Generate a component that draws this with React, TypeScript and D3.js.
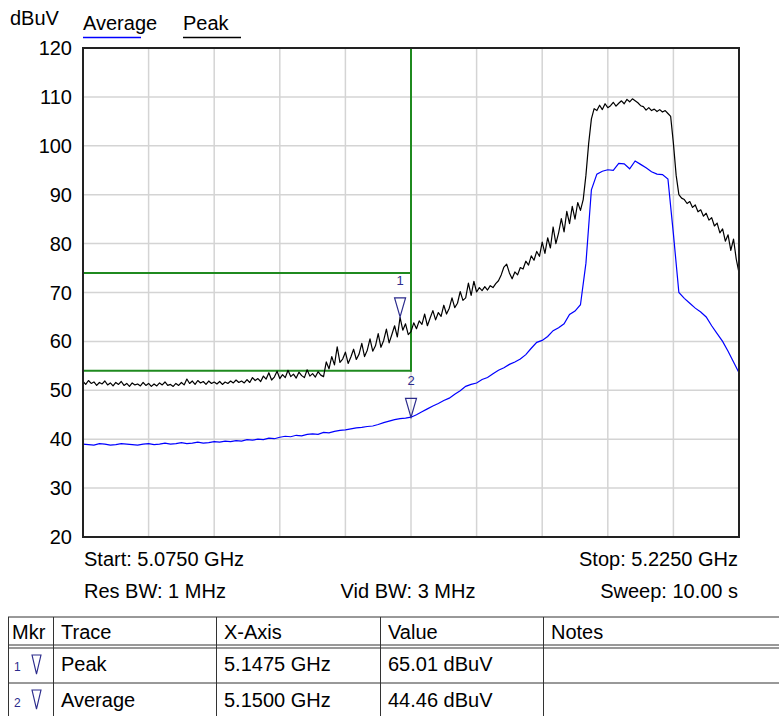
import React from "react";
import * as d3 from "d3";

const START_GHZ = 5.075;
const STOP_GHZ = 5.225;
const Y_TICKS = [120, 110, 100, 90, 80, 70, 60, 50, 40, 30, 20];
const X_DIVS = [0, 1, 2, 3, 4, 5, 6, 7, 8, 9, 10];

// Peak trace (dBuV), sweep points spaced 0.000625 GHz
const PEAK_STEP = 0.000625;
const PEAK = [
  51.8, 51.2, 52.0, 51.4, 51.7, 51.0, 51.6, 51.3, 51.9, 51.1,
  51.5, 50.9, 51.6, 51.2, 51.8, 51.0, 51.4, 50.8, 51.5, 51.1,
  51.3, 50.9, 51.6, 51.0, 51.4, 50.8, 51.3, 50.9, 51.5, 51.1,
  51.7, 51.0, 51.2, 50.8, 51.4, 51.0, 51.6, 51.1, 52.3, 51.4,
  51.9, 51.2, 52.0, 51.5, 51.8, 51.2, 51.9, 51.4, 51.7, 51.3,
  51.8, 51.2, 51.7, 51.4, 51.9, 51.5, 52.1, 51.6, 51.9, 51.5,
  52.2, 51.6, 52.6, 52.0, 52.4, 51.8, 52.9, 52.3, 53.6, 52.1,
  52.7, 53.9, 52.4, 53.2, 52.6, 54.1, 52.8, 53.3, 52.5, 53.7,
  53.0, 52.6, 54.2, 52.9, 53.4, 52.7, 53.8, 53.1, 52.8, 55.8,
  54.4, 56.9, 55.2, 58.9, 55.7, 56.4, 57.8, 55.5, 56.8, 58.4,
  56.3, 57.4, 59.6, 56.9, 58.2, 60.5, 58.0, 59.1, 61.6, 58.8,
  60.2, 62.5, 59.7, 61.4, 63.2, 60.9, 64.9, 62.3, 63.6, 61.4,
  62.0, 63.8, 62.6, 64.2, 63.5, 65.6, 63.2, 64.8, 66.3, 64.4,
  65.9, 65.1, 67.4, 65.6, 66.8, 68.9, 66.9, 67.8, 70.2, 68.4,
  68.9, 71.9, 69.4, 72.3, 70.1, 71.0, 70.4, 71.2, 70.5, 71.4,
  71.0, 71.8, 72.4, 73.6, 75.2, 75.8, 74.0, 72.8, 74.2, 73.6,
  75.1, 74.8, 76.4, 75.6, 77.5, 76.6, 78.4, 77.4, 80.3, 78.0,
  81.2, 79.1, 83.4, 80.0, 82.2, 85.1, 82.4, 86.6, 84.1, 87.6,
  85.0, 88.4, 86.8, 89.0, 94.0, 100.5, 105.5, 107.6, 107.2, 108.3,
  107.4, 108.6, 107.8, 108.2, 108.9, 108.1, 108.7, 109.2, 108.6, 109.5,
  109.0, 109.6, 109.2, 108.8, 108.2, 108.0, 107.3, 107.8, 107.2, 107.5,
  107.0, 107.4, 106.9, 107.2, 106.6, 106.0, 100.5, 94.0, 90.0, 89.3,
  89.0, 88.2, 88.6, 87.4, 87.9, 86.5, 86.9, 85.6, 86.2, 84.8,
  85.3, 83.6, 84.2, 82.2, 83.0, 80.5, 81.8, 78.6, 80.9, 76.8,
  74.0,
];

// Average trace (dBuV), sweep points spaced 0.00125 GHz
const AVG_STEP = 0.00125;
const AVERAGE = [
  39.0, 38.9, 38.8, 39.1, 39.0, 38.8, 38.9, 39.1, 39.0, 38.9,
  38.8, 39.0, 39.1, 38.9, 39.0, 39.2, 39.0, 39.1, 39.3, 39.1,
  39.2, 39.4, 39.2, 39.3, 39.5, 39.4, 39.6, 39.5, 39.7, 39.6,
  39.9, 39.8, 40.0, 39.9, 40.2, 40.1, 40.4, 40.6, 40.5, 40.8,
  40.7, 41.0, 41.1, 41.0, 41.4, 41.3, 41.6, 41.8, 41.9, 42.1,
  42.3, 42.4, 42.6, 42.7, 43.0, 43.4, 43.7, 44.0, 44.2, 44.3,
  44.5, 45.0, 45.6, 46.2, 46.8, 47.3, 47.9, 48.4, 49.2, 49.9,
  50.8, 51.2, 51.5, 52.2, 52.6, 53.4, 54.1, 54.6, 55.3, 55.8,
  56.4, 57.3, 58.6, 59.8, 60.2, 61.0, 62.2, 62.8, 63.6, 65.5,
  66.2, 67.5, 76.0, 91.0, 94.2, 94.8, 95.1, 95.0, 96.4, 96.3,
  95.3, 96.9, 96.2, 95.5, 94.7, 94.2, 94.1, 93.2, 82.0, 70.0,
  68.8, 67.8, 66.8, 66.0, 65.0, 63.2, 61.6, 60.0, 58.0, 55.8,
  53.6,
];

// Limit lines
const LIMIT_PEAK = 74;
const LIMIT_AVG = 54;
const LIMIT_STOP_GHZ = 5.15;

// Markers
const MARKERS = [
  { id: "1", trace: "Peak", freq: 5.1475, value: 65.01 },
  { id: "2", trace: "Average", freq: 5.15, value: 44.46 },
];
const TABLE_HEAD = ["Mkr", "Trace", "X-Axis", "Value", "Notes"];

const FONT = "'Liberation Sans', Arial, sans-serif";
const MK = "#2b2b8c";
const FS = 20;

export default function App() {
  const L = 83, R = 739, T = 48, B = 537;
  const x = d3.scaleLinear().domain([START_GHZ, STOP_GHZ]).range([L, R]);
  const y = d3.scaleLinear().domain([20, 120]).range([B, T]);
  const line = d3
    .line<[number, number]>()
    .x((d) => x(d[0]))
    .y((d) => y(d[1]));
  const peakPts: [number, number][] = PEAK.map((v, i) => [START_GHZ + i * PEAK_STEP, v]);
  const avgPts: [number, number][] = AVERAGE.map((v, i) => [START_GHZ + i * AVG_STEP, v]);
  const green = "#1f8a1f";

  const cols = [8, 53, 216, 380, 543, 779];
  const tTop = 617;

  return (
    <svg
      width={779}
      height={716}
      style={{ position: "absolute", left: 0, top: 0, background: "#fff" }}
      fontFamily={FONT}
    >
      <rect x={0} y={0} width={779} height={716} fill="#fff" />
      {/* header */}
      <text x={10} y={25} fontSize={FS} fill="#000">dBuV</text>
      <text x={83} y={30} fontSize={FS} fill="#000">Average</text>
      <line x1={83} x2={141} y1={37.5} y2={37.5} stroke="#0000ff" strokeWidth={1.5} />
      <text x={183} y={30} fontSize={FS} fill="#000">Peak</text>
      <line x1={183} x2={241} y1={37.5} y2={37.5} stroke="#000" strokeWidth={1.5} />

      {/* grid */}
      {Y_TICKS.map((t) => (
        <line key={"gy" + t} x1={L} x2={R} y1={y(t)} y2={y(t)} stroke="#d4d4d4" strokeWidth={1.5} />
      ))}
      {X_DIVS.map((k) => {
        const f = START_GHZ + ((STOP_GHZ - START_GHZ) * k) / 10;
        return <line key={"gx" + k} x1={x(f)} x2={x(f)} y1={T} y2={B} stroke="#d4d4d4" strokeWidth={1.5} />;
      })}
      {Y_TICKS.map((t) => (
        <text key={"ty" + t} x={72} y={y(t) + 7} fontSize={FS} textAnchor="end" fill="#000">{t}</text>
      ))}

      {/* limit lines */}
      <line x1={L} x2={x(LIMIT_STOP_GHZ)} y1={y(LIMIT_PEAK)} y2={y(LIMIT_PEAK)} stroke={green} strokeWidth={2} />
      <line x1={L} x2={x(LIMIT_STOP_GHZ)} y1={y(LIMIT_AVG)} y2={y(LIMIT_AVG)} stroke={green} strokeWidth={2} />
      <line x1={x(LIMIT_STOP_GHZ)} x2={x(LIMIT_STOP_GHZ)} y1={y(LIMIT_AVG) + 1} y2={T} stroke={green} strokeWidth={2} />

      {/* traces */}
      <path d={line(avgPts) || ""} fill="none" stroke="#0000ff" strokeWidth={1.2} />
      <path d={line(peakPts) || ""} fill="none" stroke="#000" strokeWidth={1.2} strokeLinejoin="round" />

      {/* frame */}
      <rect x={L} y={T} width={R - L} height={B - T} fill="none" stroke="#222" strokeWidth={2} />

      {/* markers */}
      {MARKERS.map((m) => {
        const mx = x(m.freq);
        const my = y(m.value);
        return (
          <g key={"m" + m.id}>
            <path
              d={`M${mx},${my} L${mx - 5.5},${my - 19} L${mx + 5.5},${my - 19} Z`}
              fill="none"
              stroke={MK}
              strokeWidth={1.2}
            />
            <text x={mx} y={my - 32} fontSize={13} textAnchor="middle" fill={MK}>{m.id}</text>
          </g>
        );
      })}

      {/* footer */}
      <text x={84} y={566} fontSize={FS} fill="#000">Start: 5.0750 GHz</text>
      <text x={738} y={566} fontSize={FS} textAnchor="end" fill="#000">Stop: 5.2250 GHz</text>
      <text x={84} y={598} fontSize={FS} fill="#000">Res BW: 1 MHz</text>
      <text x={408} y={598} fontSize={FS} textAnchor="middle" fill="#000">Vid BW: 3 MHz</text>
      <text x={738} y={598} fontSize={FS} textAnchor="end" fill="#000">Sweep: 10.00 s</text>

      {/* table */}
      <line x1={cols[0]} x2={779} y1={tTop} y2={tTop} stroke="#333" strokeWidth={1} />
      <line x1={cols[0]} x2={779} y1={645} y2={645} stroke="#333" strokeWidth={1} />
      <line x1={cols[0]} x2={779} y1={648} y2={648} stroke="#333" strokeWidth={1} />
      <line x1={cols[0]} x2={779} y1={683} y2={683} stroke="#333" strokeWidth={1} />
      {cols.slice(0, 5).map((c, i) => (
        <line key={"c" + i} x1={c + 0.5} x2={c + 0.5} y1={tTop} y2={716} stroke="#333" strokeWidth={1} />
      ))}
      {TABLE_HEAD.map((h, i) => (
        <text key={"h" + i} x={cols[i] + (i === 0 ? 4 : 8)} y={639} fontSize={FS} fill="#000">{h}</text>
      ))}
      {MARKERS.map((m, r) => {
        const by = r === 0 ? 671 : 707;
        const ty = r === 0 ? 655 : 690;
        return (
          <g key={"row" + m.id}>
            <text x={14} y={by} fontSize={12} fill={MK}>{m.id}</text>
            <path d={`M36.5,${ty + 19} L32,${ty} L41,${ty} Z`} fill="none" stroke={MK} strokeWidth={1.1} />
            <text x={cols[1] + 8} y={by} fontSize={FS} fill="#000">{m.trace}</text>
            <text x={cols[2] + 8} y={by} fontSize={FS} fill="#000">{m.freq.toFixed(4)} GHz</text>
            <text x={cols[3] + 8} y={by} fontSize={FS} fill="#000">{m.value.toFixed(2)} dBuV</text>
          </g>
        );
      })}
    </svg>
  );
}
